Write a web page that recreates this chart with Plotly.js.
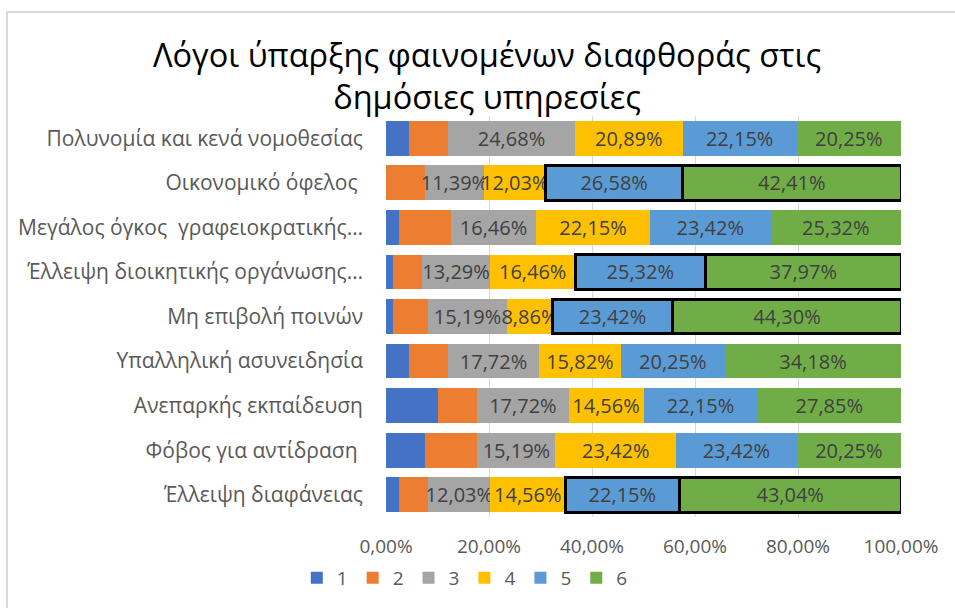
<!DOCTYPE html>
<html>
<head>
<meta charset="utf-8">
<script src="https://cdn.plot.ly/plotly-3.0.1.min.js"></script>
<style>
  html, body { margin: 0; padding: 0; background: #fff; }
  #wrap { position: relative; width: 955px; height: 608px; overflow: hidden; }
  #chart { position: absolute; left: 0; top: 0; width: 955px; height: 608px; }
  #frame { position: absolute; left: 6px; top: 11px; width: 960px; height: 610px;
           border-left: 2px solid #d9d9d9; border-top: 2px solid #d9d9d9; pointer-events: none; }
</style>
</head>
<body>
<div id="wrap">
  <div id="chart"></div>
  <div id="frame"></div>
</div>
<script>
// Categories, top to bottom as shown
const categories = [
  "Πολυνομία και κενά νομοθεσίας",
  "Οικονομικό όφελος ",
  "Μεγάλος όγκος  γραφειοκρατικής…",
  "Έλλειψη διοικητικής οργάνωσης…",
  "Μη επιβολή ποινών",
  "Υπαλληλική ασυνειδησία",
  "Ανεπαρκής εκπαίδευση",
  "Φόβος για αντίδραση ",
  "Έλλειψη διαφάνειας"
];
const seriesNames = ["1", "2", "3", "4", "5", "6"];
// Values in percent
const s1 = [4.43, 0.00, 2.53, 1.27, 1.27, 4.43, 10.13, 7.59, 2.53];
const s2 = [7.59, 7.59, 10.12, 5.69, 6.96, 7.59, 7.59, 10.13, 5.69];
const s3 = [24.68, 11.39, 16.46, 13.29, 15.19, 17.72, 17.72, 15.19, 12.03];
const s4 = [20.89, 12.03, 22.15, 16.46, 8.86, 15.82, 14.56, 23.42, 14.56];
const s5 = [22.15, 26.58, 23.42, 25.32, 23.42, 20.25, 22.15, 23.42, 22.15];
const s6 = [20.25, 42.41, 25.32, 37.97, 44.30, 34.18, 27.85, 20.25, 43.04];
// Rows whose series 5 and 6 are highlighted with a black outline
const highlighted = [false, true, false, true, true, false, false, false, true];
const tickVals = [0, 20, 40, 60, 80, 100];

const fmt = v => v.toFixed(2).replace(".", ",") + "%";
const colors = ["#4472C4", "#ED7D31", "#A5A5A5", "#FFC000", "#5B9BD5", "#70AD47"];
const allSeries = [s1, s2, s3, s4, s5, s6];
const FONT = "'Open Sans', 'Noto Sans', sans-serif";

const traces = allSeries.map((vals, i) => {
  const showLabels = i >= 2;
  const outlined = i >= 4;
  return {
    type: "bar",
    orientation: "h",
    name: seriesNames[i],
    y: categories,
    x: vals,
    marker: {
      color: colors[i],
      line: {
        color: "#000000",
        width: outlined ? highlighted.map(h => h ? 3 : 0) : 0
      }
    },
    text: showLabels ? vals.map(fmt) : undefined,
    texttemplate: showLabels ? "%{text}" : undefined,
    textposition: showLabels ? "inside" : "none",
    insidetextanchor: "middle",
    textangle: 0,
    constraintext: "none",
    cliponaxis: false,
    textfont: { family: FONT, size: 20, color: "#404040" },
    hoverinfo: "skip"
  };
});

const layout = {
  width: 955,
  height: 608,
  margin: { l: 386, r: 54, t: 116, b: 90 },
  paper_bgcolor: "#ffffff",
  plot_bgcolor: "#ffffff",
  barmode: "stack",
  bargap: 0.22,
  separators: ",.",
  showlegend: true,
  title: {
    text: "Λόγοι ύπαρξης φαινομένων διαφθοράς στις<br>δημόσιες υπηρεσίες",
    font: { family: FONT, size: 32.5, color: "#000000" },
    x: 0.51,
    xanchor: "center",
    xref: "container",
    y: 1 - 67 / 608,
    yanchor: "top",
    yref: "container"
  },
  xaxis: {
    range: [0, 100],
    tickvals: tickVals,
    ticktext: tickVals.map(fmt),
    showgrid: true,
    gridcolor: "#d9d9d9",
    gridwidth: 1,
    zeroline: false,
    showline: false,
    ticks: "",
    ticklabelstandoff: 16,
    tickfont: { family: FONT, size: 19, color: "#595959" },
    fixedrange: true
  },
  yaxis: {
    type: "category",
    autorange: "reversed",
    showgrid: false,
    zeroline: false,
    showline: false,
    ticks: "",
    ticklabelstandoff: 22,
    tickfont: { family: FONT, size: 21, color: "#595959" },
    fixedrange: true
  },
  legend: {
    orientation: "h",
    x: 0.153,
    xanchor: "center",
    y: -0.149,
    yanchor: "middle",
    font: { family: FONT, size: 19, color: "#595959" },
    itemwidth: 30,
    traceorder: "normal"
  }
};

Plotly.newPlot("chart", traces, layout, { staticPlot: true, displayModeBar: false });
</script>
</body>
</html>
